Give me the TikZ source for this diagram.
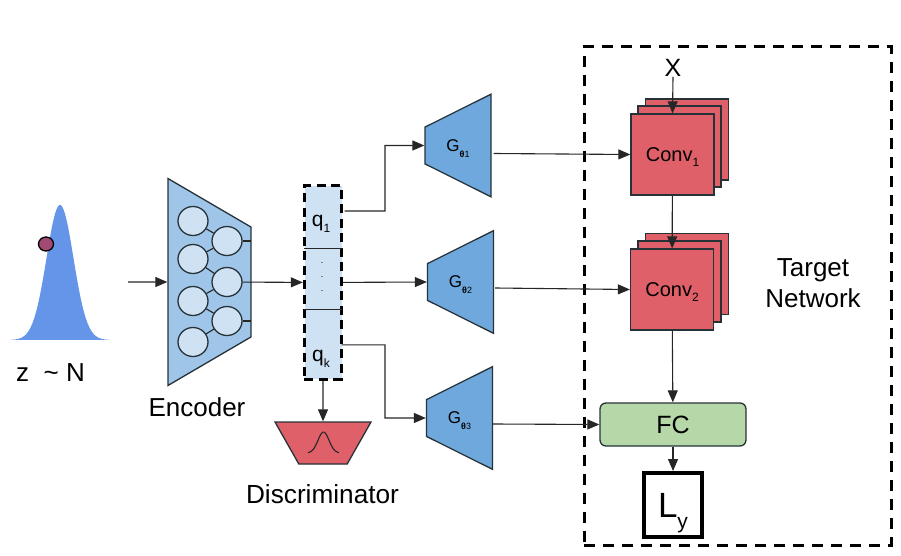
\documentclass[tikz,border=0pt]{standalone}
\usepackage{fontspec}
\setmainfont{Liberation Sans}
\usetikzlibrary{arrows.meta, positioning, shapes.geometric, fit}

\definecolor{encblue}{HTML}{9FC5E8}
\definecolor{cellblue}{HTML}{CFE2F3}
\definecolor{genblue}{HTML}{6FA8DC}
\definecolor{convred}{HTML}{E06069}
\definecolor{fcgreen}{HTML}{B6D7A8}
\definecolor{curveblue}{HTML}{6595E8}
\definecolor{dotplum}{HTML}{A34A74}
\definecolor{edgegrey}{HTML}{263238}

\newcommand{\fs}[1]{\fontsize{#1}{#1}\selectfont}
\newcommand{\lowered}[3]{\smash{\raisebox{-#1pt}{\fs{#2}#3}}}
\newcommand{\gensub}[1]{G\lowered{6}{9}{\textbf{θ}#1}}

\begin{document}
\begin{tikzpicture}[
  x=1pt, y=-1pt,
  node distance=0pt,
  arrow/.style={-{Triangle[length=12pt,width=10pt]}, line width=1.1pt, draw=black!85},
  wire/.style={line width=1.1pt, draw=black!85},
  trap/.style={trapezium, draw=edgegrey, line width=1.3pt, inner sep=0pt, trapezium stretches=true, trapezium left angle=65, trapezium right angle=65},
  gen/.style={trap, fill=genblue, shape border rotate=90, minimum width=103pt, minimum height=66pt, font=\fs{17}},
  cell/.style={ellipse, draw=edgegrey, line width=1.3pt, fill=cellblue, inner sep=0pt, minimum width=30pt, minimum height=29pt},
  qcell/.style={fill=cellblue, inner sep=0pt, minimum width=37pt},
  conv/.style={rectangle, draw=edgegrey, line width=1.3pt, fill=convred, inner sep=0pt, minimum width=83pt, minimum height=81pt, font=\fs{20}},
  lbl/.style={inner sep=0pt, font=\fs{26}}
]
\useasboundingbox (0,0) rectangle (901,556);

% Prior
\fill[curveblue] plot[domain=10:110, samples=80, smooth] (\x, {340-135*exp(-(\x-60)*(\x-60)/(2*13.5*13.5))}) -- cycle;
\node[ellipse, draw=black, line width=1.3pt, fill=dotplum, inner sep=0pt, minimum width=15pt, minimum height=14pt] (sample) at (46,244) {};
\node[lbl] (prior) at (50.5,373) {z\ \ \symbol{126}\ N};
\coordinate (priorout) at (128,282);

% Encoder
\node[trap, fill=encblue, shape border rotate=270, minimum width=207pt, minimum height=83pt] (encoder) at (209.5,282) {\phantom{x}};
\node[cell] (lone) at (193,221) {};
\node[cell] (ltwo) at (193,259) {};
\node[cell] (lthree) at (193,301) {};
\node[cell] (lfour) at (193,342) {};
\node[cell] (rone) at (227,241) {};
\node[cell] (rtwo) at (227,282) {};
\node[cell] (rthree) at (227,321) {};
\node[lbl] (enclabel) at (197,407) {Encoder};
\coordinate (edgeone) at (251,241);
\coordinate (edgethree) at (251,321);

% Code vector
\node[qcell, minimum height=62pt] (qone) at (323,217) {};
\node[qcell, minimum height=61pt, below=of qone] (qdots) {};
\node[qcell, minimum height=69pt, below=of qdots] (qk) {};
\node[fit=(qone)(qk), inner sep=0pt, draw=black, line width=3pt, dash pattern=on 9pt off 5.5pt] (qbox) {};
\node[inner sep=0pt, font=\fs{21}] (qonetxt) at (321,223) {q\lowered{6}{12}{1}};
\node[inner sep=0pt, font=\fs{21}] (qktxt) at (321,358) {q\lowered{6}{12}{k}};
\node[inner sep=0pt, font=\fs{9}, align=center] (qdotstxt) at (322,277) {.\\[5pt].\\[5pt].};

% Generators
\node[gen] (gone) at (458,145.5) {\gensub{1}};
\node[gen] (gtwo) at (460.5,282) {\gensub{2}};
\node[gen] (gthree) at (459.5,418) {\gensub{3}};

% Discriminator
\node[trap, fill=convred, shape border rotate=180, minimum width=96pt, minimum height=42pt] (disc) at (323,443) {\phantom{x}};
\draw[wire] plot[domain=308:339, samples=40, smooth] (\x, {453-21*exp(-(\x-323.5)*(\x-323.5)/(2*5.5*5.5))});
\node[lbl, font=\fs{26.2}] (disclabel) at (322.5,494.5) {Discriminator};

% Target network
\node[draw=black, line width=3pt, dash pattern=on 11pt off 8pt, inner sep=0pt, minimum width=307pt, minimum height=498pt] (target) at (737.5,296) {};
\node[lbl, align=center] (targetlabel) at (813,283) {Target\\[5pt]Network};
\node[lbl, font=\fs{25}] (xinput) at (673,68) {X};
\node[conv] (convoneback) at (687,139.5) {};
\node[conv] (convonemid) at (679.5,146.5) {};
\node[conv] (convone) at (672.5,154.5) {Conv\lowered{5}{12}{1}};
\node[conv] (convtwoback) at (687,274) {};
\node[conv] (convtwomid) at (679.5,281.5) {};
\node[conv] (convtwo) at (672,289.5) {Conv\lowered{5}{12}{2}};
\node[rectangle, rounded corners=6pt, draw=edgegrey, line width=1.3pt, fill=fcgreen, inner sep=0pt, minimum width=146pt, minimum height=43pt, font=\fs{25}] (fc) at (673,424.5) {FC};
\node[rectangle, draw=black, line width=4pt, fill=white, inner sep=0pt, minimum width=58pt, minimum height=64pt, font=\fs{35}] (loss) at (673,505) {L\lowered{11}{21}{y}};

% Arrows
\draw[wire] (lone) -- (rone);
\draw[wire] (ltwo) -- (rone);
\draw[wire] (ltwo) -- (rtwo);
\draw[wire] (lthree) -- (rtwo);
\draw[wire] (lthree) -- (rthree);
\draw[wire] (lfour) -- (rthree);
\draw[wire] (rone) -- (edgeone);
\draw[wire] (rthree) -- (edgethree);
\draw[arrow] (priorout) -- (encoder.west);
\draw[arrow] (rtwo) -- (qbox.west);
\draw[wire] (qone.south west) -- (qone.south east);
\draw[wire] (qdots.south west) -- (qdots.south east);
\draw[arrow] ([xshift=3pt,yshift=6pt]qone.east) -| (385,145.5) -- (gone.west);
\draw[arrow] (qbox.east) -- (gtwo.west);
\draw[arrow] ([yshift=-0.5pt]qk.east) -| (385,418) -- (gthree.west);
\draw[arrow] (qbox.south) -- (disc.north);
\draw[arrow] ([xshift=2pt,yshift=-8pt]gone.east) -- (convone.west);
\draw[arrow] ([xshift=1pt,yshift=-6pt]gtwo.east) -- (convtwo.west);
\draw[arrow] ([yshift=-6pt]gthree.east) -- (fc.west);
\draw[arrow] (xinput.south) -- (convone.north);
\draw[arrow] (convone) -- (convtwo);
\draw[arrow] (convtwo) -- (fc);
\draw[arrow] (fc) -- (loss);

\end{tikzpicture}
\end{document}
